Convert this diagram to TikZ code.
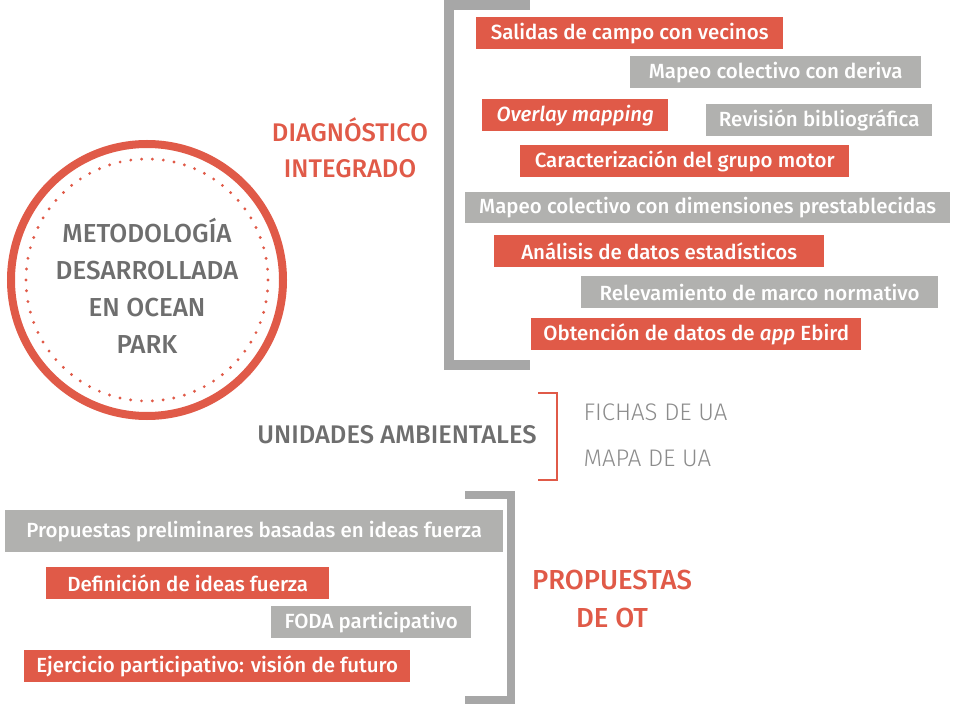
\documentclass[tikz,border=0pt]{standalone}
\usepackage{fontspec}
\setmainfont{Fira Sans}
\newfontfamily\medfont{Fira Sans Medium}
\newfontfamily\lightfont{Fira Sans Light}
\definecolor{otred}{HTML}{E05A48}
\definecolor{otgray}{HTML}{B1B1AF}
\definecolor{txtgray}{HTML}{6E6E6E}
\definecolor{ltgray}{HTML}{8C8C8C}
\definecolor{brgray}{HTML}{A7A7A7}
\begin{document}
\begin{tikzpicture}[x=1pt, y=-1pt,
 box/.style={anchor=north west, inner sep=0pt, text=white, font=\medfont\fontsize{20.5}{20.5}\selectfont},
 redbox/.style={box, fill=otred},
 graybox/.style={box, fill=otgray},
 head/.style={align=center, font=\medfont\fontsize{25.5}{36}\selectfont}]
 \useasboundingbox (0,0) rectangle (953,708);
 \node[circle, draw=otred, line width=8pt, minimum size=272pt, inner sep=0pt] (metodo) at (147,280) {};
 \draw[otred, line width=3.2pt, line cap=round, dash pattern=on 0pt off 10.86pt] (metodo.center) circle (121pt);
 \node[head, txtgray, font=\medfont\fontsize{26}{37}\selectfont] (metodotxt) at (147,286) {METODOLOGÍA\\DESARROLLADA\\EN OCEAN\\PARK};
 \node[head, otred] (diag) at (350,148) {DIAGNÓSTICO\\INTEGRADO};
 \draw[brgray, line width=10pt] (530,5) -- (449,5) -- (449,365) -- (530,365);
 \node[redbox, minimum width=307pt, minimum height=32pt] (salidas) at (476,17) {Salidas de campo con vecinos};
 \node[graybox, minimum width=291pt, minimum height=32pt] (deriva) at (630,56) {Mapeo colectivo con deriva};
 \node[redbox, minimum width=186pt, minimum height=32pt] (overlay) at (482,99) {\itshape Overlay mapping};
 \node[graybox, minimum width=226pt, minimum height=32pt] (biblio) at (706,104) {Revisión bibliográfica};
 \node[redbox, minimum width=329pt, minimum height=32pt] (grupo) at (520,145) {Caracterización del grupo motor};
 \node[graybox, minimum width=485pt, minimum height=31pt] (dimens) at (465,192) {Mapeo colectivo con dimensiones prestablecidas};
 \node[redbox, minimum width=330pt, minimum height=32pt] (analisis) at (494,235) {Análisis de datos estadísticos};
 \node[graybox, minimum width=357pt, minimum height=32pt] (marco) at (581,276) {Relevamiento de marco normativo};
 \node[redbox, minimum width=330pt, minimum height=32pt] (ebird) at (531,318) {Obtención de datos de \textit{app} Ebird};
 \node[head, txtgray] (unidades) at (397,435) {UNIDADES AMBIENTALES};
 \draw[otred, line width=2.5pt] (538,393) -- (557,393) -- (557,480) -- (538,480);
 \node[anchor=west, ltgray, font=\lightfont\fontsize{24}{24}\selectfont] (fichas) at (580,412) {FICHAS DE UA};
 \node[anchor=west, ltgray, font=\lightfont\fontsize{24}{24}\selectfont] (mapa) at (580,458) {MAPA DE UA};
 \draw[brgray, line width=8pt] (465,495) -- (511,495) -- (511,700) -- (465,700);
 \node[graybox, minimum width=498pt, minimum height=42pt] (prelim) at (5,510) {Propuestas preliminares basadas en ideas fuerza};
 \node[redbox, minimum width=283pt, minimum height=32pt] (ideas) at (46,567) {Definición de ideas fuerza};
 \node[graybox, minimum width=200pt, minimum height=32pt] (foda) at (271,606) {FODA participativo};
 \node[redbox, minimum width=386pt, minimum height=32pt] (futuro) at (24,650) {Ejercicio participativo: visión de futuro};
 \node[head, otred, font=\medfont\fontsize{27.5}{38}\selectfont] (propuestas) at (612,599) {PROPUESTAS\\DE OT};
\end{tikzpicture}
\end{document}
